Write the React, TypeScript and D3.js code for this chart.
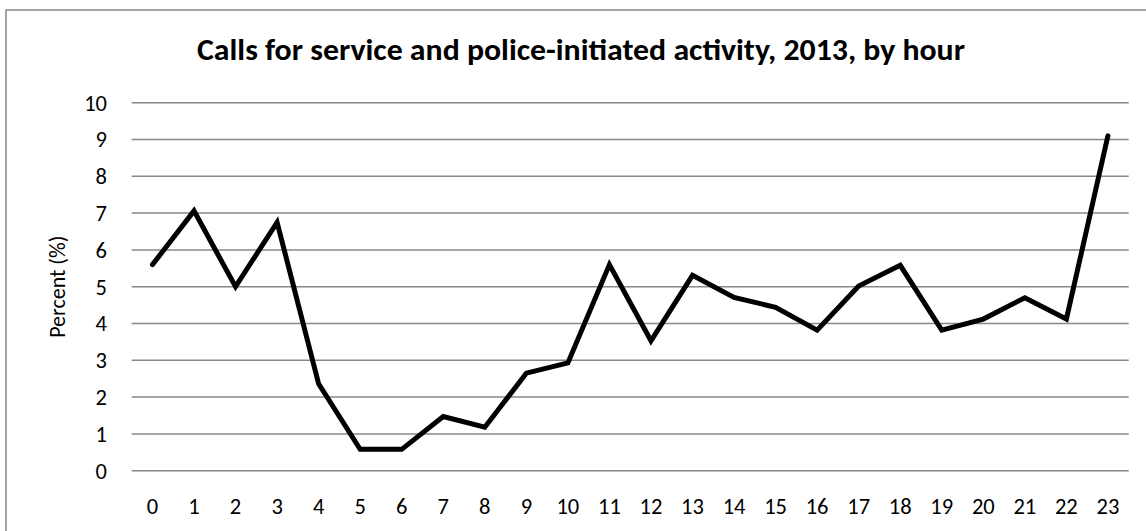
import React from "react";
import * as d3 from "d3";

const hours: string[] = Array.from({ length: 24 }, (_, i) => String(i));
const percentValues: number[] = [
  5.6, 7.06, 5.0, 6.75, 2.36, 0.58, 0.58, 1.47, 1.18, 2.65, 2.93, 5.6,
  3.53, 5.31, 4.71, 4.44, 3.82, 5.02, 5.58, 3.82, 4.12, 4.7, 4.12, 9.1,
];
const yTicks: number[] = [0, 1, 2, 3, 4, 5, 6, 7, 8, 9, 10];
const titleText = "Calls for service and police-initiated activity, 2013, by hour";
const yAxisTitle = "Percent (%)";

const W = 1146;
const H = 531;
const plot = { left: 131.7, right: 1128.7, top: 102.7, bottom: 470.7 };
const FONT = "Carlito, Calibri, Lato, 'Open Sans', sans-serif";

export default function App() {
  const x = d3.scaleBand<string>().domain(hours).range([plot.left, plot.right]);
  const y = d3.scaleLinear().domain([0, 10]).range([plot.bottom, plot.top]);
  const cx = (h: string) => (x(h) as number) + x.bandwidth() / 2;
  const line = d3
    .line<number>()
    .x((_, i) => cx(hours[i]))
    .y((d) => y(d));

  return (
    <svg
      width={W}
      height={H}
      style={{ position: "absolute", left: 0, top: 0, background: "#fff" }}
      fontFamily={FONT}
    >
      <rect x={0} y={0} width={W} height={H} fill="#fff" />
      <rect x={6} y={10} width={W + 100} height={H + 100} fill="none" stroke="#888" strokeWidth={1.5} />
      <text
        x={581}
        y={60}
        textAnchor="middle"
        fontWeight="bold"
        fontSize={30}
        fill="#000"
        textLength={768}
        lengthAdjust="spacingAndGlyphs"
      >
        {titleText}
      </text>
      {yTicks.map((t) => (
        <g key={t}>
          <line
            x1={plot.left}
            x2={plot.right}
            y1={y(t)}
            y2={y(t)}
            stroke="#888"
            strokeWidth={1.5}
          />
          <text x={107} y={y(t)} dy="0.35em" textAnchor="end" fontSize={22.5} fill="#000">
            {t}
          </text>
        </g>
      ))}
      {hours.map((h) => (
        <text
          key={h}
          x={cx(h)}
          y={506}
          dy="0.35em"
          textAnchor="middle"
          fontSize={22.5}
          fill="#000"
        >
          {h}
        </text>
      ))}
      <text
        transform={`translate(57,${(plot.top + plot.bottom) / 2}) rotate(-90)`}
        textAnchor="middle"
        dy="0.35em"
        fontSize={22}
        fill="#000"
      >
        {yAxisTitle}
      </text>
      <path
        d={line(percentValues) as string}
        fill="none"
        stroke="#000"
        strokeWidth={5}
        strokeLinejoin="miter"
        strokeMiterlimit={4}
        strokeLinecap="round"
      />
    </svg>
  );
}
